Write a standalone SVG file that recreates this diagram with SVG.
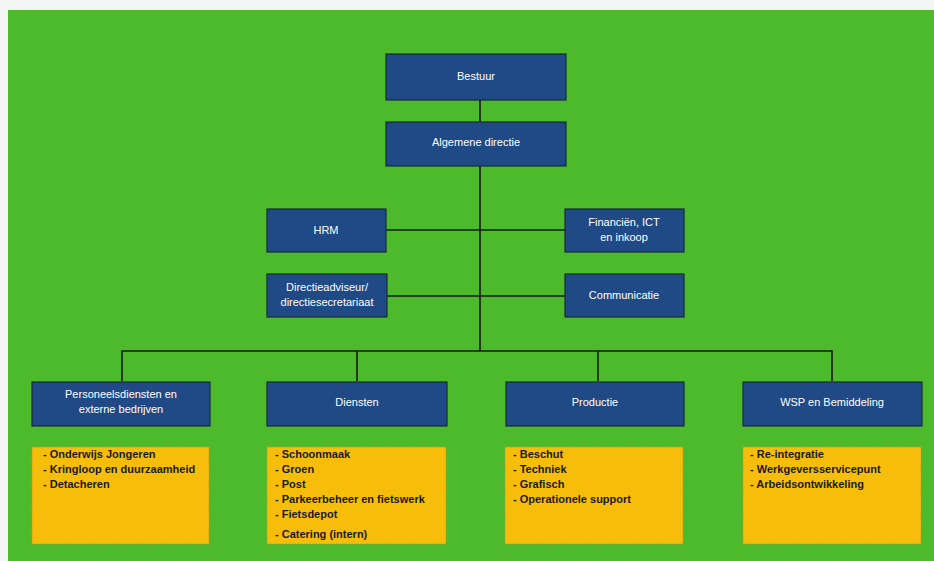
<svg xmlns="http://www.w3.org/2000/svg" width="934" height="561" viewBox="0 0 934 561">
<style>
.bg{fill:#4dba2c}
.b rect{fill:#1f4a86;stroke:#1a2a3a;stroke-width:1.2}
.b text{fill:#ffffff;font-family:"Liberation Sans",Arial,sans-serif;font-size:11px;text-anchor:middle}
.y rect{fill:#f6bd0a;stroke:#b89a2a;stroke-width:0.8;stroke-dasharray:2 1}
.y text{fill:#1a1a1a;font-family:"Liberation Sans",Arial,sans-serif;font-size:11px;font-weight:bold}
#connectors path{fill:none;stroke:#1a1a1a;stroke-width:1.6}
</style>
<rect width="934" height="561" fill="#f4f6f4"/>
<rect class="bg" x="8" y="10" width="926" height="551"/>
<g id="connectors">
<path d="M480 100V122M480 166V351M386 230H565M386 296H565M122 381V351H832V381M357 351V381M598 351V381"/>
</g>
<g id="bestuur" class="b"><rect x="386" y="54" width="180" height="46"/><text x="476" y="80">Bestuur</text></g>
<g id="algemene-directie" class="b"><rect x="386" y="122" width="180" height="44"/><text x="476" y="146">Algemene directie</text></g>
<g id="hrm" class="b"><rect x="267" y="209" width="119" height="43"/><text x="326" y="234">HRM</text></g>
<g id="financien" class="b"><rect x="565" y="209" width="119" height="43"/><text x="624" y="226">Financiën, ICT</text><text x="624" y="241">en inkoop</text></g>
<g id="directieadviseur" class="b"><rect x="267" y="274" width="120" height="43"/><text x="327" y="291">Directieadviseur/</text><text x="327" y="306">directiesecretariaat</text></g>
<g id="communicatie" class="b"><rect x="565" y="274" width="119" height="43"/><text x="624" y="299">Communicatie</text></g>
<g id="personeelsdiensten" class="b"><rect x="32" y="382" width="178" height="44"/><text x="121" y="398">Personeelsdiensten en</text><text x="121" y="413">externe bedrijven</text></g>
<g id="diensten" class="b"><rect x="267" y="382" width="180" height="44"/><text x="357" y="406">Diensten</text></g>
<g id="productie" class="b"><rect x="506" y="382" width="178" height="44"/><text x="595" y="406">Productie</text></g>
<g id="wsp" class="b"><rect x="743" y="382" width="179" height="44"/><text x="832" y="406">WSP en Bemiddeling</text></g>
<g id="lijst-personeelsdiensten" class="y"><rect x="32" y="447" width="177" height="97"/>
<text x="43" y="458">- Onderwijs Jongeren</text><text x="43" y="473">- Kringloop en duurzaamheid</text><text x="43" y="488">- Detacheren</text></g>
<g id="lijst-diensten" class="y"><rect x="267" y="447" width="179" height="97"/>
<text x="275" y="458">- Schoonmaak</text><text x="275" y="473">- Groen</text><text x="275" y="488">- Post</text><text x="275" y="503">- Parkeerbeheer en fietswerk</text><text x="275" y="518">- Fietsdepot</text><text x="275" y="538">- Catering (intern)</text></g>
<g id="lijst-productie" class="y"><rect x="505" y="447" width="178" height="97"/>
<text x="513" y="458">- Beschut</text><text x="513" y="473">- Techniek</text><text x="513" y="488">- Grafisch</text><text x="513" y="503">- Operationele support</text></g>
<g id="lijst-wsp" class="y"><rect x="743" y="447" width="178" height="97"/>
<text x="750" y="458">- Re-integratie</text><text x="750" y="473">- Werkgeversservicepunt</text><text x="750" y="488">- Arbeidsontwikkeling</text></g>
</svg>
